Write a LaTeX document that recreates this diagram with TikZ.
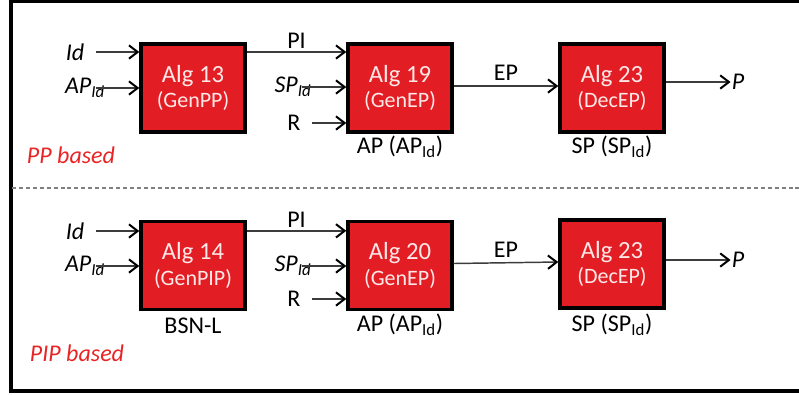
\documentclass[tikz,border=0pt]{standalone}
\usepackage{fontspec}
\setmainfont{Carlito}
\usetikzlibrary{positioning,arrows.meta}

\definecolor{algfill}{RGB}{226,30,36}
\definecolor{algtext}{RGB}{255,232,232}
\definecolor{basedred}{RGB}{232,36,36}
\definecolor{linegray}{RGB}{60,60,60}

\tikzset{
  alg/.style={draw=black, line width=2.6pt, fill=algfill, text=algtext,
    minimum width=78pt, minimum height=66pt, inner sep=0pt, align=center},
  lbl/.style={inner sep=0.75pt, font=\fontsize{18}{20}\selectfont},
  inlbl/.style={lbl, font=\fontsize{18}{20}\selectfont\itshape},
  basedlbl/.style={lbl, text=basedred, font=\fontsize{18}{20}\selectfont\itshape},
  flow/.style={draw=linegray, line width=1.1pt,
    -{Straight Barb[length=6.5pt,width=10pt,line width=1.5pt,color=black]}},
}

\newcommand{\algtxt}[2]{{\fontsize{18.5}{22}\selectfont Alg #1}\\[3pt]{\fontsize{16.5}{20}\selectfont (#2)}}

\begin{document}
\begin{tikzpicture}[x=0.75pt,y=0.75pt,yscale=-1,xscale=1]
\clip (0,0) rectangle (799,394);
\useasboundingbox (0,0) rectangle (799,394);

%Outer frame, open on the right
\draw [line width=2.4pt] (11,1.5) rectangle (830,391);
%Dashed separator
\draw [draw=gray, line width=0.9pt, dash pattern=on 3pt off 2.2pt] (12,188) -- (799,188);

% ---- PP based ----
\node [alg] (alg13) at (193,88) {\algtxt{13}{GenPP}};
\node [alg] (alg19) at (400,88) {\algtxt{19}{GenEP}};
\node [alg] (alg23a) at (612,88) {\algtxt{23}{DecEP}};

% Text Node
\node [inlbl] (id1) at (75,52) {Id};
\node [inlbl] (apid1) at (85,88) {AP\textsubscript{Id}};
\node [inlbl] (spid1) at (293,87) {SP\textsubscript{Id}};
\node [lbl] (r1) at (294,123) {R};
\node [inlbl] (p1) at (738,82) {P};
\node [lbl] (ap1) at (400,147) {AP (AP\textsubscript{Id})};
\node [lbl] (sp1) at (612,147) {SP (SP\textsubscript{Id})};
\node [basedlbl] (pp) at (71,155) {PP based};

%Straight Lines
\draw [flow] ([xshift=8]id1.east) -- (id1 -| alg13.west);
\draw [flow] ([xshift=-8]apid1.east) -- (apid1 -| alg13.west);
\draw [flow] ([yshift=-27pt]alg13.east) -- ([yshift=-27pt]alg19.west)
  node [lbl, midway, above=1pt] (pi1) {PI};
\draw [flow] ([xshift=-8]spid1.east) -- (spid1 -| alg19.west);
\draw [flow] ([xshift=8]r1.east) -- (r1 -| alg19.west);
\draw [flow] ([yshift=-1.5pt]alg19.east) -- ([yshift=-1.5pt]alg23a.west)
  node [lbl, midway, above=3pt] (ep1) {EP};
\draw [flow] (alg23a.east |- p1) -- (p1.west);

% ---- PIP based ----
\node [alg] (alg14) at (193,265.5) {\algtxt{14}{GenPIP}};
\node [alg] (alg20) at (400,265.5) {\algtxt{20}{GenEP}};
\node [alg] (alg23b) at (612,264) {\algtxt{23}{DecEP}};

% Text Node
\node [inlbl] (id2) at (75,231) {Id};
\node [inlbl] (apid2) at (85,266) {AP\textsubscript{Id}};
\node [inlbl] (spid2) at (293,266) {SP\textsubscript{Id}};
\node [lbl] (r2) at (294,299) {R};
\node [inlbl] (p2) at (738,260) {P};
\node [lbl] (bsn) at (193,326) {BSN-L};
\node [lbl] (ap2) at (400,325) {AP (AP\textsubscript{Id})};
\node [lbl] (sp2) at (612,325) {SP (SP\textsubscript{Id})};
\node [basedlbl] (pip) at (77,353) {PIP based};

%Straight Lines
\draw [flow] ([xshift=8]id2.east) -- (id2 -| alg14.west);
\draw [flow] ([xshift=-8]apid2.east) -- (apid2 -| alg14.west);
\draw [flow] ([yshift=-26pt]alg14.east) -- ([yshift=-26pt]alg20.west)
  node [lbl, midway, above=1pt] (pi2) {PI};
\draw [flow] ([xshift=-8]spid2.east) -- (spid2 -| alg20.west);
\draw [flow] ([xshift=8]r2.east) -- (r2 -| alg20.west);
\draw [flow] ([yshift=-1.5pt]alg20.east) -- ([yshift=-1.5pt]alg23b.west)
  node [lbl, midway, above=3pt] (ep2) {EP};
\draw [flow] (alg23b.east |- p2) -- (p2.west);
\end{tikzpicture}
\end{document}
